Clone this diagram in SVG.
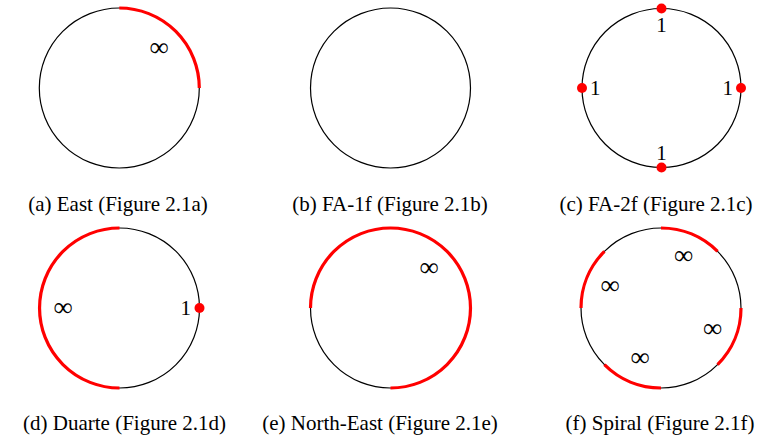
<svg xmlns="http://www.w3.org/2000/svg" width="764" height="442" viewBox="0 0 764 442">
<style>
.c{fill:none;stroke:#000;stroke-width:1.2}
.r{fill:none;stroke:#ff0000;stroke-width:3.2}
.d{fill:#ff0000}
text{font-family:"Liberation Serif","Times New Roman",serif;fill:#000}
.cap{font-size:21px;text-anchor:middle}
.lb{font-size:21px}
.inf{font-size:27px;text-anchor:middle}
</style>
<rect width="764" height="442" fill="#fff"/>
<g id="a">
<circle class="c" cx="119.3" cy="88" r="80"/>
<path class="r" d="M119.3 8 A80 80 0 0 1 199.3 88"/>
<text class="inf" x="159" y="56">∞</text>
<text class="cap" x="118" y="211">(a) East (Figure 2.1a)</text>
</g>
<g id="b">
<circle class="c" cx="390.5" cy="88" r="80"/>
<text class="cap" x="390" y="211">(b) FA-1f (Figure 2.1b)</text>
</g>
<g id="c">
<circle class="c" cx="661.5" cy="88" r="79.5"/>
<circle class="d" cx="661.5" cy="8.5" r="5"/>
<circle class="d" cx="661.5" cy="167.5" r="5"/>
<circle class="d" cx="582" cy="88" r="5"/>
<circle class="d" cx="741" cy="88" r="5"/>
<text class="lb" x="661.5" y="32" text-anchor="middle">1</text>
<text class="lb" x="661.5" y="160" text-anchor="middle">1</text>
<text class="lb" x="590" y="95">1</text>
<text class="lb" x="733" y="95" text-anchor="end">1</text>
<text class="cap" x="656" y="211">(c) FA-2f (Figure 2.1c)</text>
</g>
<g id="d">
<circle class="c" cx="119.5" cy="308" r="80"/>
<path class="r" d="M119.5 228 A80 80 0 0 0 119.5 388"/>
<circle class="d" cx="199.5" cy="308" r="5"/>
<text class="lb" x="191" y="315" text-anchor="end">1</text>
<text class="inf" x="63" y="316">∞</text>
<text class="cap" x="124.5" y="430">(d) Duarte (Figure 2.1d)</text>
</g>
<g id="e">
<circle class="c" cx="390.5" cy="308" r="80"/>
<path class="r" d="M310.5 308 A80 80 0 1 1 390.5 388"/>
<text class="inf" x="429" y="276">∞</text>
<text class="cap" x="380" y="430">(e) North-East (Figure 2.1e)</text>
</g>
<g id="f">
<circle class="c" cx="661" cy="308" r="80"/>
<path class="r" d="M661 228 A80 80 0 0 1 717.57 251.43"/>
<path class="r" d="M741 308 A80 80 0 0 1 717.57 364.57"/>
<path class="r" d="M661 388 A80 80 0 0 1 604.43 364.57"/>
<path class="r" d="M581 308 A80 80 0 0 1 604.43 251.43"/>
<text class="inf" x="683.5" y="264">∞</text>
<text class="inf" x="610" y="294">∞</text>
<text class="inf" x="712.5" y="337">∞</text>
<text class="inf" x="640" y="366">∞</text>
<text class="cap" x="660" y="430">(f) Spiral (Figure 2.1f)</text>
</g>
<g id="connectors"></g>
</svg>
